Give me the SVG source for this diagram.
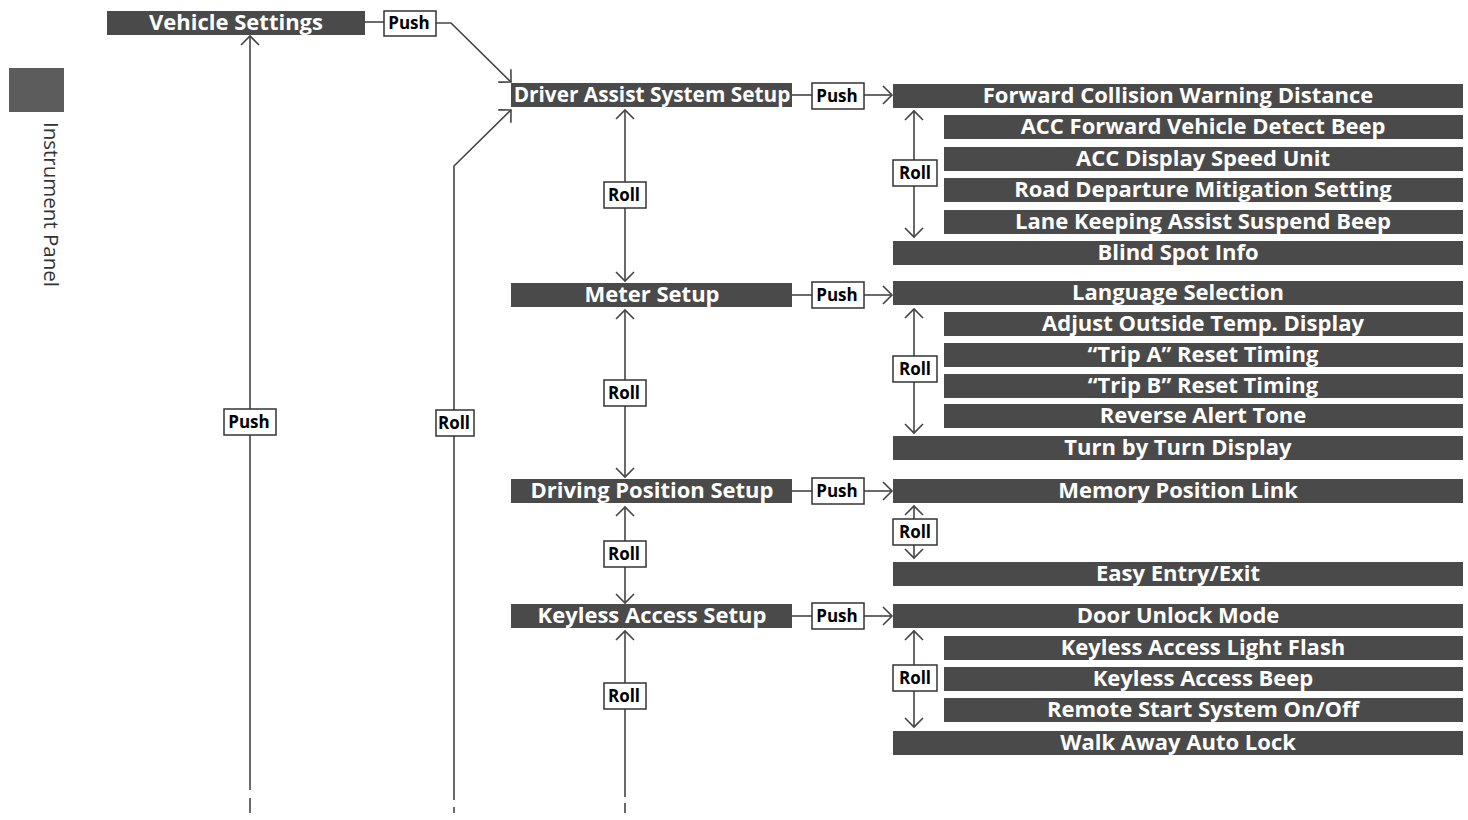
<svg xmlns="http://www.w3.org/2000/svg" width="1468" height="820" viewBox="0 0 1468 820">
<defs>
<style>
.box{fill:#4a4a4a}
.tab{fill:#5c5c5c}
.bt{fill:#fff;font-family:"Open Sans","Noto Sans","Liberation Sans",sans-serif;font-weight:700;font-size:22px;text-anchor:middle}
.lb{fill:#fff;stroke:#333;stroke-width:1.5}
.lt{fill:#000;font-family:"Open Sans","Noto Sans","Liberation Sans",sans-serif;font-weight:700;font-size:17px;text-anchor:middle}
.ln{fill:none;stroke:#444;stroke-width:1.6}
.side{fill:#333;font-family:"Open Sans","Noto Sans","Liberation Sans",sans-serif;font-size:20.5px}
</style>
<marker id="ah" markerUnits="userSpaceOnUse" markerWidth="24" markerHeight="24" viewBox="-12 -12 24 24" refX="0" refY="0" orient="auto-start-reverse">
<path d="M-9,-9 L0,0 L-9,9" fill="none" stroke="#444" stroke-width="1.6"/>
</marker>
</defs>
<rect width="1468" height="820" fill="#fff"/>

<g id="side-tab">
<rect class="tab" x="9" y="68" width="55" height="44"/>
<text class="side" transform="translate(44,122) rotate(90)">Instrument Panel</text>
</g>

<g id="connectors">
<path class="ln" d="M365,22 H384"/>
<path class="ln" d="M436,23 H451 L511,82" marker-end="url(#ah)"/>
<path class="ln" d="M250,790 V36" marker-end="url(#ah)"/>
<path class="ln" d="M250,798 V813"/>
<path class="ln" d="M454,800 V166 L511,110" marker-end="url(#ah)"/>
<path class="ln" d="M454,807 V813"/>
<path class="ln" d="M625,110 V281" marker-start="url(#ah)" marker-end="url(#ah)"/>
<path class="ln" d="M625,310 V477" marker-start="url(#ah)" marker-end="url(#ah)"/>
<path class="ln" d="M625,507 V603" marker-start="url(#ah)" marker-end="url(#ah)"/>
<path class="ln" d="M625,797 V631" marker-end="url(#ah)"/>
<path class="ln" d="M625,803 V813"/>
<path class="ln" d="M792,95 H812"/>
<path class="ln" d="M864,95 H892" marker-end="url(#ah)"/>
<path class="ln" d="M792,295 H812"/>
<path class="ln" d="M864,295 H892" marker-end="url(#ah)"/>
<path class="ln" d="M792,491 H812"/>
<path class="ln" d="M864,491 H892" marker-end="url(#ah)"/>
<path class="ln" d="M792,616 H812"/>
<path class="ln" d="M864,616 H892" marker-end="url(#ah)"/>
<path class="ln" d="M914,111 V237" marker-start="url(#ah)" marker-end="url(#ah)"/>
<path class="ln" d="M914,309 V433" marker-start="url(#ah)" marker-end="url(#ah)"/>
<path class="ln" d="M914,506 V558" marker-start="url(#ah)" marker-end="url(#ah)"/>
<path class="ln" d="M914,631 V727" marker-start="url(#ah)" marker-end="url(#ah)"/>

<rect class="lb" x="384" y="11" width="52" height="25"/><text class="lt" x="409" y="29">Push</text>
<rect class="lb" x="224" y="409" width="52" height="26"/><text class="lt" x="249" y="428">Push</text>
<rect class="lb" x="436" y="410" width="38" height="26"/><text class="lt" x="454" y="429">Roll</text>
<rect class="lb" x="604" y="182" width="42" height="26"/><text class="lt" x="624" y="201">Roll</text>
<rect class="lb" x="604" y="380" width="42" height="26"/><text class="lt" x="624" y="399">Roll</text>
<rect class="lb" x="604" y="541" width="42" height="26"/><text class="lt" x="624" y="560">Roll</text>
<rect class="lb" x="604" y="683" width="42" height="26"/><text class="lt" x="624" y="702">Roll</text>
<rect class="lb" x="812" y="83" width="52" height="26"/><text class="lt" x="837" y="102">Push</text>
<rect class="lb" x="812" y="282" width="52" height="26"/><text class="lt" x="837" y="301">Push</text>
<rect class="lb" x="812" y="478" width="52" height="26"/><text class="lt" x="837" y="497">Push</text>
<rect class="lb" x="812" y="603" width="52" height="26"/><text class="lt" x="837" y="622">Push</text>
<rect class="lb" x="893" y="160" width="44" height="26"/><text class="lt" x="915" y="179">Roll</text>
<rect class="lb" x="893" y="356" width="44" height="26"/><text class="lt" x="915" y="375">Roll</text>
<rect class="lb" x="893" y="519" width="44" height="26"/><text class="lt" x="915" y="538">Roll</text>
<rect class="lb" x="893" y="665" width="44" height="26"/><text class="lt" x="915" y="684">Roll</text>
</g>

<g id="vehicle-settings"><rect class="box" x="107" y="11" width="258" height="24"/><text class="bt" x="236" y="30">Vehicle Settings</text></g>

<g id="driver-assist-system-setup"><rect class="box" x="511" y="83" width="281" height="24"/><text class="bt" x="652" y="102" style="font-size:20.8px">Driver Assist System Setup</text></g>
<g id="meter-setup"><rect class="box" x="511" y="283" width="281" height="24"/><text class="bt" x="652" y="302">Meter Setup</text></g>
<g id="driving-position-setup"><rect class="box" x="511" y="479" width="281" height="24"/><text class="bt" x="652" y="498">Driving Position Setup</text></g>
<g id="keyless-access-setup"><rect class="box" x="511" y="604" width="281" height="24"/><text class="bt" x="652" y="623">Keyless Access Setup</text></g>

<g id="forward-collision-warning-distance"><rect class="box" x="893" y="84" width="570" height="24"/><text class="bt" x="1178" y="103">Forward Collision Warning Distance</text></g>
<g id="acc-forward-vehicle-detect-beep"><rect class="box" x="944" y="115" width="519" height="24"/><text class="bt" x="1203" y="134">ACC Forward Vehicle Detect Beep</text></g>
<g id="acc-display-speed-unit"><rect class="box" x="944" y="147" width="519" height="24"/><text class="bt" x="1203" y="166">ACC Display Speed Unit</text></g>
<g id="road-departure-mitigation-setting"><rect class="box" x="944" y="178" width="519" height="24"/><text class="bt" x="1203" y="197">Road Departure Mitigation Setting</text></g>
<g id="lane-keeping-assist-suspend-beep"><rect class="box" x="944" y="210" width="519" height="24"/><text class="bt" x="1203" y="229">Lane Keeping Assist Suspend Beep</text></g>
<g id="blind-spot-info"><rect class="box" x="893" y="241" width="570" height="24"/><text class="bt" x="1178" y="260">Blind Spot Info</text></g>

<g id="language-selection"><rect class="box" x="893" y="281" width="570" height="24"/><text class="bt" x="1178" y="300">Language Selection</text></g>
<g id="adjust-outside-temp-display"><rect class="box" x="944" y="312" width="519" height="24"/><text class="bt" x="1203" y="331">Adjust Outside Temp. Display</text></g>
<g id="trip-a-reset-timing"><rect class="box" x="944" y="343" width="519" height="24"/><text class="bt" x="1203" y="362">“Trip A” Reset Timing</text></g>
<g id="trip-b-reset-timing"><rect class="box" x="944" y="374" width="519" height="24"/><text class="bt" x="1203" y="393">“Trip B” Reset Timing</text></g>
<g id="reverse-alert-tone"><rect class="box" x="944" y="404" width="519" height="24"/><text class="bt" x="1203" y="423">Reverse Alert Tone</text></g>
<g id="turn-by-turn-display"><rect class="box" x="893" y="436" width="570" height="24"/><text class="bt" x="1178" y="455">Turn by Turn Display</text></g>

<g id="memory-position-link"><rect class="box" x="893" y="479" width="570" height="24"/><text class="bt" x="1178" y="498">Memory Position Link</text></g>
<g id="easy-entry-exit"><rect class="box" x="893" y="562" width="570" height="24"/><text class="bt" x="1178" y="581">Easy Entry/Exit</text></g>

<g id="door-unlock-mode"><rect class="box" x="893" y="604" width="570" height="24"/><text class="bt" x="1178" y="623">Door Unlock Mode</text></g>
<g id="keyless-access-light-flash"><rect class="box" x="944" y="636" width="519" height="24"/><text class="bt" x="1203" y="655">Keyless Access Light Flash</text></g>
<g id="keyless-access-beep"><rect class="box" x="944" y="667" width="519" height="24"/><text class="bt" x="1203" y="686">Keyless Access Beep</text></g>
<g id="remote-start-system-on-off"><rect class="box" x="944" y="698" width="519" height="24"/><text class="bt" x="1203" y="717">Remote Start System On/Off</text></g>
<g id="walk-away-auto-lock"><rect class="box" x="893" y="731" width="570" height="24"/><text class="bt" x="1178" y="750">Walk Away Auto Lock</text></g>
</svg>
